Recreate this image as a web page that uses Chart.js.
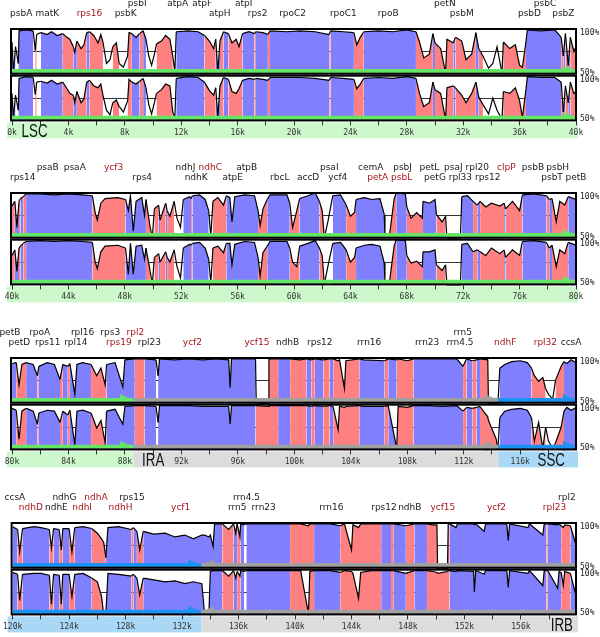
<!DOCTYPE html>
<html>
<head>
<meta charset="utf-8">
<script src="https://cdn.jsdelivr.net/npm/chart.js@4/dist/chart.umd.min.js"></script>
<style>
html, body { margin: 0; padding: 0; background: #fff; width: 600px; height: 637px; overflow: hidden; position: relative; }
canvas { position: absolute; left: 0; }
</style>
</head>
<body>
<canvas id="c1" width="600" height="156" style="top:-12px"></canvas>
<canvas id="c2" width="600" height="156" style="top:152px"></canvas>
<canvas id="c3" width="600" height="156" style="top:317px"></canvas>
<canvas id="c4" width="600" height="156" style="top:482px"></canvas>
<script>
// x range of each of the four rows (kb)
const panelMin = [0, 40, 80, 120];
const panelMax = [40, 80, 119.95, 159.9];

// identity curves: position (kb), top track %, bottom track %, class of the stretch that starts there
// b = exon (conserved), p = non-coding conserved, w = not conserved
const p1x = [0,0.1,0.25,0.45,0.5,1,1.5,1.65,1.75,2.05,
  2.5,2.8,3.2,3.6,3.9,4.1,4.35,4.45,4.6,4.9,
  5.1,5.3,5.5,5.8,6.1,6.3,6.45,6.7,6.95,7.15,
  7.4,7.6,7.9,8.2,8.3,8.5,8.8,9.05,9.3,9.5,
  9.7,9.9,10.1,10.25,10.6,10.9,11.2,11.4,11.55,11.65,
  12.5,13.2,13.65,14,14.3,14.45,14.6,14.75,15,15.35,
  15.6,15.9,16.1,16.35,16.8,17.2,17.3,17.8,18.15,18.3,
  19.5,20.4,21.5,22.5,22.6,23.5,24.25,24.45,24.7,24.95,
  26,27,28,28.65,28.9,29.2,29.6,29.85,30,30.4,
  30.75,30.85,31.3,31.45,31.9,32.2,32.6,32.9,33.1,33.4,
  33.8,34.1,34.4,34.75,34.85,35.3,35.7,36,36.2,36.45,
  36.55,37.5,38.5,38.95,39.1,39.25,39.45,39.6,39.85,40];
const p1a = [85,52,80,62,97,98,97,76,93,95,
  93,96,92,94,90,88,80,74,86,78,
  82,95,96,92,84,93,85,62,66,80,
  84,62,58,70,95,94,90,94,97,88,
  70,60,72,83,86,92,88,70,53,96,
  97,96,92,86,78,88,52,86,96,94,
  84,88,80,94,96,94,96,95,93,97,
  96,97,96,93,97,96,95,82,90,96,
  97,96,98,96,85,68,72,94,84,78,
  52,88,84,90,86,66,72,95,78,70,
  57,62,80,52,85,78,82,60,58,85,
  98,97,98,90,70,94,60,90,75,80];
const p1b = [80,54,78,62,96,98,97,79,92,93,
  91,94,90,92,85,80,78,70,82,70,
  74,92,94,88,86,90,78,62,57,70,
  73,66,60,72,95,92,90,93,96,86,
  68,58,70,80,84,90,88,60,54,96,
  98,97,92,83,78,86,54,88,97,95,
  82,80,85,94,96,95,96,95,94,97,
  97,97,96,94,97,96,95,85,90,96,
  97,96,98,96,80,66,70,92,84,80,
  52,86,88,86,78,70,80,92,76,68,
  58,75,62,52,82,80,86,72,54,84,
  98,97,97,92,60,88,70,92,80,82];
const p1c = 'bbwbbbwpwb' + 'bbbpppbbpp' + 'pbppppwwwp' + 'pwwppbbpbw' + 'wwwppppwwb' +
  'bbpppbbpbp' + 'pppbbpbbpb' + 'bbbpbbpppb' + 'bbbppppbpp' + 'ppbppppbpw' + 'wwwbpppppb' + 'bbbpbpbppp';

const p2x = [40,40.2,40.35,40.5,40.6,40.8,41,42,43,44,
  45,45.7,45.9,46.05,46.3,46.6,47.5,48.05,48.25,48.4,
  48.6,48.8,49.2,49.4,49.5,49.8,49.95,50.1,50.4,50.5,
  50.9,51,51.2,51.5,51.7,51.95,52.15,52.6,52.7,52.8,
  53.3,53.7,53.95,54.1,54.25,54.6,55,55.2,55.45,55.6,
  55.8,56.5,57.2,57.45,57.6,57.8,58.1,58.3,59.5,59.7,
  59.9,60.2,60.4,61,61.5,61.8,62,62.15,62.4,62.75,
  63.3,63.7,64,64.3,64.4,65,65.5,66.1,66.4,66.45,
  66.75,67.1,67.25,67.9,68,68.3,68.7,69.1,69.15,69.6,
  70,70.1,70.5,70.75,70.85,71.8,71.9,72.3,72.7,73,
  73.2,73.6,74,74.6,74.9,75,75.5,76,76.2,77,
  77.9,78.1,78.3,78.6,78.85,79.2,79.45,80];
const p2a = [85,90,62,90,93,95,98,98,97,98,
  97,96,78,70,88,93,94,92,80,96,
  58,90,94,75,92,62,51,82,86,70,
  88,80,74,90,72,62,92,95,93,96,
  97,92,80,52,90,94,86,96,94,68,
  95,97,96,80,64,82,92,97,97,88,
  62,80,93,96,99,90,80,51,68,96,
  97,86,74,78,92,94,92,93,76,51,
  51,92,99,98,84,72,78,72,90,88,
  92,76,68,74,50,50,95,96,90,86,
  90,84,88,85,88,82,90,80,97,98,
  96,92,93,68,90,86,95,92];
const p2b = [82,88,65,90,92,95,97,98,97,98,
  97,96,75,68,86,92,93,90,62,95,
  62,92,93,78,90,65,51,80,84,75,
  86,80,75,88,70,58,90,94,93,95,
  96,90,78,52,90,92,85,95,95,72,
  94,97,96,80,60,85,92,97,97,90,
  75,70,92,95,98,90,82,51,70,95,
  96,88,75,80,90,93,94,92,74,51,
  51,92,99,98,82,74,76,70,86,86,
  88,72,66,72,50,50,94,95,86,88,
  86,82,90,84,88,80,88,82,97,98,
  96,90,93,70,88,84,96,93];
const p2c = 'pbbpbpbbbb' + 'bppppppbbb' + 'bbbbpwwpbp' + 'bppwwwbbpb' + 'bbwwpppbbb' +
  'bbbpppbbbp' + 'ppbbbppwwb' + 'bpppbbbbww' + 'ppbbppppbb' + 'bppwwwbbpb' + 'ppppbpppbb' + 'pbppppbb';

const p3x = [80,80.3,80.5,80.7,81,81.5,81.8,81.9,82.5,83,
  83.4,83.6,83.95,84.1,84.45,84.6,85,85.6,86,86.3,
  86.6,86.7,87.3,87.85,88,88.7,89.4,90.2,90.35,90.45,
  91.5,92.5,93.5,94.5,95.35,95.45,95.55,96.5,97.25,97.3,
  98.15,98.2,98.85,99.7,100.4,100.85,101.2,101.45,102.05,102.5,
  102.75,103.1,103.2,103.55,103.65,104.6,104.9,106.4,106.65,107.25,
  107.35,108,108.45,109.5,110.5,111.5,111.95,112.2,112.6,112.9,
  113.15,113.7,113.75,114.3,114.42,114.55,114.9,115.4,116,116.5,
  116.8,117,117.3,117.6,117.8,118,118.3,118.5,118.9,119.1,
  119.3,119.6,119.95];
const p3a = [93,94,70,92,94,92,80,90,94,92,
  76,92,90,93,60,92,94,92,80,88,
  70,92,94,68,97,98,98,97,80,98,
  97,98,97,98,97,67,98,98,98,50,
  50,98,98,98,97,98,97,98,97,98,
  98,96,97,66,96,98,97,96,98,97,
  98,96,98,98,98,98,90,98,96,97,
  98,97,50,50,50,88,92,95,96,94,
  88,80,74,78,66,60,55,75,90,95,
  93,97,94];
const p3b = [95,93,62,92,95,92,78,90,93,92,
  80,92,88,93,56,92,93,90,74,82,
  58,92,94,78,97,98,98,97,80,98,
  98,98,97,97,97,78,98,98,98,98,
  97,98,98,98,98,98,97,98,97,98,
  97,72,97,96,97,98,97,97,98,52,
  97,96,98,98,97,98,92,96,95,96,
  97,86,82,62,51,85,92,94,95,93,
  85,60,80,52,75,60,52,58,75,92,
  96,93,96];
const p3c = 'bpppbbpbbb' + 'pbpbbbbppp' + 'pbbbbpbwbb' + 'bbbbbbbbpp' + 'ppbppbpbpb' +
  'pppppbbpbp' + 'ppbbbbpbpb' + 'ppppwbbbbb' + 'ppppwwwppb' + 'bbb';

const p4x = [120,120.35,120.5,120.7,121.5,122,122.6,122.75,122.9,123.3,
  123.45,123.55,124,124.2,124.4,125,125.6,126,126.3,126.45,
  126.6,126.75,127.5,128.4,128.55,128.8,129,129.25,130,130.8,
  131.5,132.2,132.8,133.4,133.6,133.9,134,134.2,134.3,134.85,
  135.3,135.65,135.8,135.9,136.1,136.15,136.4,136.55,137.5,138.5,
  139.65,140.4,140.95,141.05,141.35,142.5,143.2,143.5,144,144.1,
  144.5,144.65,145.4,146.1,146.8,147,147.85,148.45,149.35,149.75,
  150.05,150.1,150.8,150.85,150.95,151.4,151.5,152.65,152.7,152.8,
  153.4,153.5,155,155.1,155.2,156.5,156.6,157.55,157.65,157.8,
  157.9,158.6,158.7,158.85,159,159.1,159.5,159.85,159.9];
const p4a = [95,92,68,93,95,94,92,72,93,92,
  70,93,93,68,94,95,93,88,82,78,
  62,94,95,92,94,90,70,90,87,88,
  84,86,82,86,86,84,86,74,98,98,
  92,98,88,98,84,98,97,98,98,98,
  98,98,96,98,98,98,96,98,70,97,
  94,98,98,98,98,98,96,98,98,97,
  97,50,50,98,98,94,98,98,97,98,
  90,98,98,80,98,94,98,86,98,98,
  98,97,98,96,94,97,96,78,80];
const p4b = [96,94,66,94,95,95,93,62,94,93,
  62,94,94,70,94,95,90,86,70,51,
  51,95,94,92,94,90,72,90,88,86,
  87,84,86,84,51,51,97,98,98,98,
  92,98,90,97,92,98,97,98,98,98,
  98,98,52,97,98,98,96,98,97,95,
  68,96,98,98,98,98,95,98,98,97,
  96,95,97,98,98,97,98,97,75,98,
  94,98,98,80,98,95,98,82,98,98,
  98,79,97,96,82,97,95,74,76];
const p4c = 'bppbbbppbp' + 'pbppbbpppp' + 'bbbpbppbbb' + 'bbbbbbbbbp' + 'pbbppbwbbb' +
  'ppppbbpppp' + 'pppbpbpbpp' + 'ppppbbbbbb' + 'bbbbbbbbbp' + 'bbbpppbbb';

// genome regions
const regionName = ['LSC', 'IRA', 'SSC', 'IRB'];
const regionStart = [0, 88.6, 114.45, 133.35];
const regionEnd = [88.6, 114.45, 133.35, 159.9];
const regionDir = [1, 1, 1, -1];
const regionLabelAt = [1.6, 90.0, 118.2, 158.9];

// gene labels: name, position (kb), row (0 upper, 1 lower), red (1)
const g1n = ['psbI','atpA','atpF','atpI','petN','psbC','psbA','matK','rps16','psbK','atpH','rps2','rpoC2','rpoC1','rpoB','psbM','psbD','psbZ'];
const g1p = [8.88,11.75,13.49,16.43,30.7,37.8,0.65,2.5,5.49,8.06,14.73,17.42,19.9,23.5,26.68,31.9,36.7,39.1];
const g1r = [0,0,0,0,0,0,1,1,1,1,1,1,1,1,1,1,1,1];
const g1red = [0,0,0,0,0,0,0,0,1,0,0,0,0,0,0,0,0,0];

const g2n = ['psaB','psaA','ycf3','ndhJ','ndhC','atpB','psaI','cemA','psbJ','petL','psaJ','rpl20','clpP','psbB','psbH',
  'rps14','rps4','ndhK','atpE','rbcL','accD','ycf4','petA','psbL','petG','rpl33','rps12','psbT','petB'];
const g2p = [42.53,44.45,47.2,52.3,54.06,56.65,62.5,65.44,67.7,69.6,71.3,73.0,75.06,76.95,78.7,
  40.76,49.23,53.06,55.65,58.99,61.0,63.1,65.94,67.63,70.0,71.8,73.74,78.3,80.0];
const g2r = [0,0,0,0,0,0,0,0,0,0,0,0,0,0,0, 1,1,1,1,1,1,1,1,1,1,1,1,1,1];
const g2red = [0,0,1,0,1,0,0,0,0,0,0,0,1,0,0, 0,0,0,0,0,0,0,1,1,0,0,0,0,0];

const g3n = ['petB','rpoA','rpl16','rps3','rpl2','rrn5',
  'petD','rps11','rpl14','rps19','rpl23','ycf2','ycf15','ndhB','rps12','rrn16','rrn23','rrn4.5','ndhF','rpl32','ccsA'];
const g3p = [79.85,81.96,85.0,86.96,88.74,111.93,
  80.52,82.53,84.52,87.57,89.73,92.78,97.35,99.52,101.8,105.3,109.41,111.73,114.94,117.78,119.6];
const g3r = [0,0,0,0,0,0, 1,1,1,1,1,1,1,1,1,1,1,1,1,1,1];
const g3red = [0,0,0,0,1,0, 0,0,0,1,0,1,1,0,0,0,0,0,1,1,0];

const g4n = ['ccsA','ndhG','ndhA','rps15','rrn4.5','rpl2',
  'ndhD','ndhE','ndhI','ndhH','ycf1','rrn5','rrn23','rrn16','rps12','ndhB','ycf15','ycf2','rpl23'];
const g4p = [120.16,123.67,125.9,128.45,136.56,159.25,
  121.29,123.1,124.92,127.64,131.9,135.9,137.78,142.57,146.3,148.13,150.47,154.27,158.38];
const g4r = [0,0,0,0,0,0, 1,1,1,1,1,1,1,1,1,1,1,1,1];
const g4red = [0,0,1,0,0,0, 1,0,1,1,1,0,0,0,0,0,1,1,1];

// styles
const BLUE = '#8080ff', PINK = '#ff8080', NONE = 'rgba(0,0,0,0)';
const bandFill = ['#ccf8cc', '#dcdcdc', '#a9d8f6', '#dcdcdc'];
const arrowFill = ['#66e466', '#a0a0a0', '#1a93f3', '#a0a0a0'];
const RED = '#a8161b', INK = '#1a1a1a';

const panels = [
  {x: p1x, a: p1a, b: p1b, c: p1c, gn: g1n, gp: g1p, gr: g1r, gred: g1red},
  {x: p2x, a: p2a, b: p2b, c: p2c, gn: g2n, gp: g2p, gr: g2r, gred: g2red},
  {x: p3x, a: p3a, b: p3b, c: p3c, gn: g3n, gp: g3p, gr: g3r, gred: g3red},
  {x: p4x, a: p4a, b: p4b, c: p4c, gn: g4n, gp: g4p, gr: g4r, gred: g4red}
];

// arrow head drawn so its tip sits on the data point
function head(color, dir) {
  const c = document.createElement('canvas');
  c.width = 26; c.height = 11;
  const g = c.getContext('2d');
  g.fillStyle = color;
  g.beginPath();
  if (dir > 0) { g.moveTo(0, 0); g.lineTo(13, 5.5); g.lineTo(0, 11); }
  else { g.moveTo(26, 0); g.lineTo(13, 5.5); g.lineTo(26, 11); }
  g.closePath();
  g.fill();
  return c;
}

const decor = k => ({
  id: 'decor' + k,
  beforeDraw(chart) {
    const {ctx, chartArea: ca, scales: {x}} = chart;
    ctx.save();
    regionName.forEach((n, i) => {
      const s = Math.max(regionStart[i], x.min), e = Math.min(regionEnd[i], x.max);
      if (e <= s) return;
      const x0 = s === x.min ? ca.left - 5 : x.getPixelForValue(s);
      const x1 = e === x.max ? ca.right + 2 : x.getPixelForValue(e);
      ctx.fillStyle = bandFill[i];
      ctx.fillRect(x0, ca.bottom + 1, x1 - x0, 16);
    });
    ctx.restore();
  },
  afterDatasetsDraw(chart) {
    const {ctx, chartArea: ca, scales} = chart;
    ctx.save();
    ctx.strokeStyle = '#000';
    ctx.lineWidth = 2;
    [scales.yA, scales.yB].forEach(s => {
      ctx.strokeRect(ca.left - 1, s.top + 1, ca.right - ca.left + 1, s.bottom - s.top - 2);
    });
    ctx.restore();
  },
  afterDraw(chart) {
    const {ctx, chartArea: ca, scales} = chart;
    const x = scales.x;
    const P = panels[k];
    ctx.save();
    ctx.textBaseline = 'middle';
    ctx.font = '8px "DejaVu Sans Mono"';
    ctx.fillStyle = INK;
    ctx.textAlign = 'left';
    [scales.yA, scales.yB].forEach(s => {
      ctx.fillText('100%', ca.right + 4, s.top + 5);
      ctx.fillText('50%', ca.right + 4, s.bottom - 2);
    });
    ctx.font = '9px "DejaVu Sans"';
    ctx.textAlign = 'center';
    P.gn.forEach((n, i) => {
      ctx.fillStyle = P.gred[i] ? RED : INK;
      ctx.fillText(n, x.getPixelForValue(P.gp[i]), ca.top - (P.gr[i] ? 14 : 24));
    });
    // region names, narrow
    ctx.font = '19px "Liberation Sans"';
    ctx.textBaseline = 'alphabetic';
    ctx.fillStyle = '#111';
    regionName.forEach((n, i) => {
      const v = regionLabelAt[i];
      if (v < x.min || v > x.max) return;
      ctx.save();
      ctx.translate(x.getPixelForValue(v), ca.bottom + 16);
      ctx.scale(0.7, 1);
      ctx.fillText(n, 0, 0);
      ctx.restore();
    });
    ctx.restore();
  }
});

const yAxis = {
  type: 'linear', position: 'right', stack: 'tracks', stackWeight: 1, min: 50, max: 100,
  afterBuildTicks: s => { s.ticks = [50, 75, 100].map(value => ({value})); },
  ticks: {display: false},
  grid: {drawTicks: false, lineWidth: 1, color: c => (c.tick && c.tick.value === 75) ? '#333' : NONE},
  border: {display: false}
};

function makeChart(k) {
  const P = panels[k];
  const lo = panelMin[k], hi = panelMax[k];
  const curve = v => P.x.map((x, i) => ({x, y: v[i]}));
  const colorAt = c => ({b: BLUE, p: PINK}[P.c[c.p0DataIndex]] || NONE);
  const datasets = [];
  [['yA', P.a], ['yB', P.b]].forEach(([ax, v]) => datasets.push({
    data: curve(v), yAxisID: ax, borderColor: '#000', borderWidth: 1.2, pointRadius: 0,
    backgroundColor: NONE, fill: {value: 50}, segment: {backgroundColor: colorAt}, order: 2
  }));
  regionName.forEach((n, i) => {
    const s = Math.max(regionStart[i], lo), e = Math.min(regionEnd[i], hi);
    if (e <= s) return;
    const tip = regionDir[i] > 0 ? 1 : 0;
    ['yA', 'yB'].forEach(ax => datasets.push({
      data: [{x: s, y: 54}, {x: e, y: 54}], yAxisID: ax,
      borderColor: arrowFill[i], borderWidth: 4, borderCapStyle: 'butt',
      pointStyle: head(arrowFill[i], regionDir[i]), pointRadius: [0, 1].map(j => j === tip ? 5 : 0),
      fill: false, order: 1
    }));
  });

  new Chart(document.getElementById('c' + (k + 1)), {
    type: 'line',
    data: {datasets},
    options: {
      responsive: false,
      animation: false,
      events: [],
      layout: {padding: {left: 12, right: 24, top: 40, bottom: 3}},
      plugins: {legend: {display: false}, tooltip: {enabled: false}},
      scales: {
        x: {
          type: 'linear', min: lo, max: hi,
          ticks: {
            stepSize: 2, includeBounds: false, autoSkip: false, maxRotation: 0, padding: 3,
            font: {family: 'DejaVu Sans Mono', size: 8}, color: '#333',
            callback: v => Math.round(v) % 4 === 0 ? Math.round(v) + 'k' : ''
          },
          grid: {drawOnChartArea: false, drawTicks: true, tickLength: 4, color: '#333'},
          border: {display: false}
        },
        yA: {...yAxis},
        yB: {...yAxis}
      }
    },
    plugins: [decor(k)]
  });
}

[0, 1, 2, 3].forEach(makeChart);
</script>
</body>
</html>
